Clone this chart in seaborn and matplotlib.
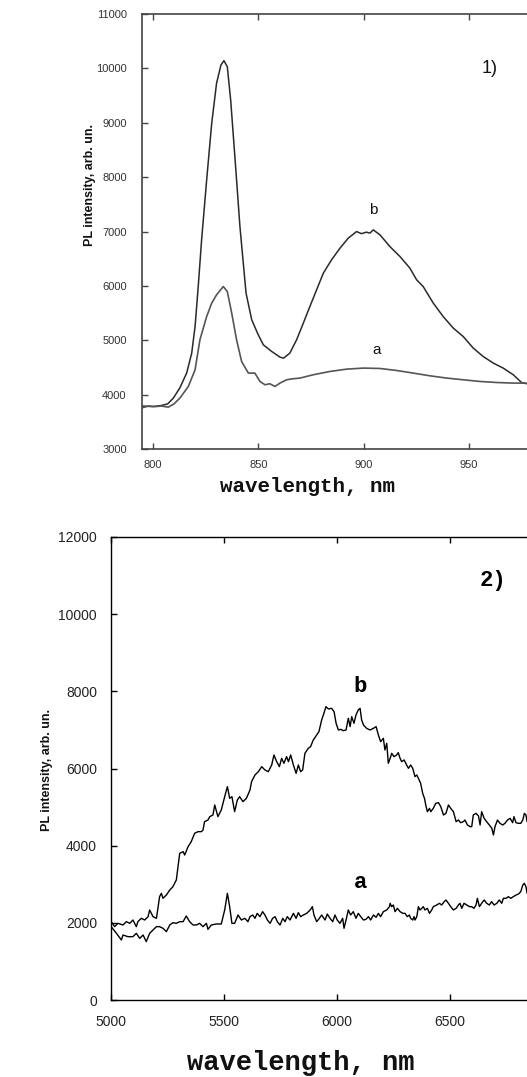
import matplotlib
matplotlib.use("Agg")
import matplotlib.pyplot as plt
import seaborn as sns
from matplotlib import font_manager

# === DATA: panel 1 (near IR) ===
wl1_b = [795, 800, 804, 807, 809.7, 812.8, 816, 818.4, 820, 821.5, 823.1, 825.5, 827.9, 830.2,
         832.3, 833.7, 835.3, 836.9, 838.9, 841.3, 844.2, 846.9, 850, 852.4, 856.4, 860.3, 862,
         865, 868.2, 871.4, 874.5, 877.7, 880.9, 884.8, 888.8, 892.7, 896.7, 899, 901.4, 903,
         904.6, 907.8, 912.5, 917.3, 922, 925.2, 928.3, 933.1, 937.8, 942.6, 947.3, 952.1,
         956.8, 961.6, 966.3, 971.1, 975, 977.5]
pl1_b = [3790, 3780, 3800, 3830, 3937, 4126, 4396, 4763, 5253, 5988, 6846, 7949, 8990, 9726,
         10063, 10142, 10031, 9419, 8377, 7091, 5866, 5376, 5100, 4916, 4793, 4690, 4670,
         4763, 5008, 5315, 5620, 5927, 6234, 6479, 6693, 6877, 6999, 6960, 6988, 6970,
         7030, 6938, 6723, 6539, 6326, 6111, 5988, 5683, 5436, 5223, 5069, 4855,
         4701, 4580, 4488, 4365, 4223, 4200]

wl1_a = [795, 798, 801, 804, 807.3, 810, 812.8, 816.8, 820, 822.3, 825.5, 827.9, 830.2, 833.4,
         835.3, 837.4, 839.7, 842.1, 845.3, 848.4, 850.8, 853.2, 855.5, 857.9, 860.3, 863.5,
         866, 869.8, 876.1, 884, 892, 899.9, 907.8, 915.7, 923.6, 931.5, 939.5, 947.3, 955.3,
         963.2, 971.1, 977.5]
pl1_a = [3760, 3790, 3780, 3790, 3770, 3830, 3937, 4150, 4457, 5008, 5436, 5683, 5835, 5988,
         5896, 5499, 5008, 4609, 4396, 4396, 4242, 4181, 4200, 4150, 4212, 4273,
         4290, 4304, 4365, 4426, 4469, 4488, 4481, 4444, 4396, 4346, 4304, 4273, 4242,
         4223, 4212, 4212]

# === DATA: panel 2 (mid IR) ===
wl2_b = [5001, 5016, 5031, 5053, 5068, 5083, 5097, 5112, 5119, 5134, 5149, 5164, 5171, 5186,
         5201, 5215, 5223, 5230, 5245, 5260, 5274, 5289, 5304, 5319, 5326, 5341, 5355, 5370,
         5385, 5400, 5407, 5414, 5429, 5437, 5451, 5459, 5473, 5488, 5503, 5515, 5525, 5535,
         5547, 5559, 5569, 5584, 5599,
         5615, 5622, 5637, 5652, 5667, 5681, 5696, 5711, 5721, 5733, 5745, 5755, 5765, 5777,
         5785, 5795, 5807, 5819, 5829, 5839, 5848, 5858, 5873, 5883, 5895, 5910, 5920, 5932,
         5942, 5951, 5962, 5976, 5987, 5996, 6006, 6016, 6028, 6040, 6050, 6058, 6065, 6075,
         6084, 6094, 6102, 6109, 6117, 6131, 6146, 6161, 6173, 6183, 6193, 6205, 6212, 6220,
         6227,
         6235, 6242, 6252, 6264, 6271, 6279, 6286, 6297, 6308, 6316, 6326, 6335, 6345, 6353,
         6360, 6370, 6379, 6387, 6394, 6400, 6409, 6415, 6426, 6437, 6449, 6459, 6471, 6482,
         6493, 6503, 6515, 6527, 6537, 6547, 6559, 6566, 6577, 6589, 6596, 6603, 6615, 6626,
         6633, 6640, 6651, 6662, 6674, 6685, 6692, 6699, 6710, 6721, 6733, 6743, 6754, 6766,
         6777, 6783, 6792, 6802, 6813, 6822, 6829, 6836, 6841]
pl2_b = [2030, 1901, 1987, 1944, 2030, 1987, 2073, 1901, 2030, 2117, 2073, 2160, 2333, 2160,
         2117, 2678, 2765, 2635, 2721, 2851, 2937, 3110, 3801, 3845, 3758, 3974, 4104, 4320,
         4363, 4363, 4406, 4622, 4665, 4752, 4795, 5054, 4752, 4925, 5270, 5530, 5227, 5270,
         4882, 5184, 5270, 5141, 5227,
         5443, 5659, 5832, 5918, 6048, 5962, 5918, 6091, 6350, 6177, 6048, 6264, 6134, 6307,
         6177, 6350, 6091, 5875, 6091, 5918, 5962, 6393, 6523, 6566, 6739, 6869, 6955, 7257,
         7430, 7603, 7543, 7560, 7473, 7171, 6998, 7015, 6981, 6998, 7301, 7085, 7344, 7171,
         7387, 7517, 7560, 7257, 7128, 7041, 6998, 7041, 7085, 6869, 6696, 6782, 6480, 6653,
         6134,
         6264, 6394, 6307, 6350, 6411, 6264, 6177, 6221, 6091, 6005, 6091, 6005, 5789, 5832,
         5746, 5616, 5357, 5227, 5011, 4881, 4968, 4881, 4968, 5098, 5115, 5011, 4795, 4838,
         5054, 4968, 4881, 4622, 4665, 4596, 4622, 4665, 4536, 4493, 4493, 4795, 4838, 4769,
         4536, 4881, 4709, 4622, 4536, 4450, 4277, 4493, 4665, 4579, 4536, 4579, 4665, 4709,
         4596, 4752, 4596, 4579, 4579, 4665, 4838, 4795, 4622]

wl2_a = [5001, 5024, 5046, 5053, 5075, 5097, 5112, 5127, 5142, 5156, 5171, 5186, 5201, 5215,
         5230, 5245, 5260, 5274, 5289, 5304, 5319, 5333, 5348, 5363, 5378, 5392, 5407, 5422,
         5429, 5444, 5466, 5488, 5503, 5515, 5525, 5535, 5547, 5562, 5577, 5592, 5606,
         5615, 5627, 5637, 5647, 5659, 5671, 5681, 5692, 5704, 5715, 5726, 5736, 5748, 5760,
         5770, 5780, 5792, 5807, 5819, 5829, 5839, 5851, 5866, 5881, 5891, 5898, 5910, 5922,
         5932, 5947, 5957, 5969, 5981, 5991, 6001, 6013, 6025, 6031, 6040, 6050, 6060, 6072,
         6084, 6094, 6105, 6117, 6128, 6139, 6149, 6161, 6173, 6183, 6193, 6205, 6220, 6232,
         6235, 6242, 6249, 6257, 6267, 6279, 6291, 6301, 6311, 6320, 6326, 6335, 6341, 6345,
         6353, 6360, 6367, 6375, 6382, 6389, 6400, 6409, 6419, 6426, 6441, 6453, 6463, 6474,
         6482, 6493, 6503, 6515, 6527, 6537, 6544, 6552, 6562, 6574, 6586, 6596, 6606, 6615,
         6621, 6630, 6640, 6651, 6662, 6674, 6684, 6695, 6707, 6718, 6729, 6736, 6748, 6758,
         6769, 6780, 6792, 6803, 6813, 6822, 6829, 6836, 6841]
pl2_a = [1901, 1728, 1555, 1685, 1641, 1641, 1728, 1598, 1685, 1512, 1728, 1814, 1901, 1901,
         1858, 1771, 1944, 2004, 1987, 2030, 2030, 2177, 2030, 1944, 1944, 1987, 1901, 1987,
         1832, 1944, 1970, 1970, 2333, 2765, 2419, 1987, 1987, 2203, 2073, 2117, 2030,
         2160, 2203, 2117, 2246, 2160, 2290, 2203, 2073, 1987, 2117, 2160, 2030, 1944, 2117,
         2030, 2160, 2073, 2246, 2117, 2264, 2160, 2203, 2246, 2333, 2419, 2203, 2030, 2117,
         2203, 2073, 2229, 2117, 2030, 2203, 2073, 1987, 2117, 1858, 2073, 2333, 2203, 2290,
         2117, 2246, 2160, 2073, 2091, 2160, 2073, 2203, 2143, 2246, 2160, 2290, 2333, 2419,
         2506, 2419, 2462, 2290, 2376, 2290, 2246, 2246, 2160, 2203, 2117, 2073, 2160, 2073,
         2160, 2419, 2333, 2376, 2419, 2333, 2376, 2246, 2333, 2419, 2462, 2506, 2462, 2549,
         2592, 2506, 2419, 2333, 2376, 2462, 2506, 2376, 2506, 2462, 2419, 2419, 2376, 2462,
         2635, 2419, 2506, 2592, 2506, 2462, 2549, 2462, 2506, 2592, 2506, 2635, 2635, 2678,
         2635, 2678, 2721, 2747, 2808, 2981, 3024, 2937, 2765]

ticks1_x = [800, 850, 900, 950]
ticks1_y = [3000, 4000, 5000, 6000, 7000, 8000, 9000, 10000, 11000]
ticks2_x = [5000, 5500, 6000, 6500]
ticks2_y = [0, 2000, 4000, 6000, 8000, 10000, 12000]

# === STYLE ===
sns.set_theme(style="ticks")
names = {f.name for f in font_manager.fontManager.ttflist}
SANS = "Liberation Sans" if "Liberation Sans" in names else "DejaVu Sans"
NARROW = "Liberation Sans Narrow" if "Liberation Sans Narrow" in names else SANS
MONO = "Liberation Mono" if "Liberation Mono" in names else "DejaVu Sans Mono"
plt.rcParams["font.family"] = [SANS, "DejaVu Sans"]

W, H = 527, 1077
fig = plt.figure(figsize=(W / 100, H / 100), dpi=100)
fig.patch.set_facecolor("white")


def px_axes(left, top, right, bottom):
    return fig.add_axes([left / W, 1 - bottom / H, (right - left) / W, (bottom - top) / H])


# === PANEL 1 ===
ax1 = px_axes(142, 14, 535, 449)
sns.lineplot(x=wl1_b, y=pl1_b, ax=ax1, color="#2a2a2a", lw=1.1, estimator=None, sort=False)
sns.lineplot(x=wl1_a, y=pl1_a, ax=ax1, color="#555555", lw=1.2, estimator=None, sort=False)
ax1.set_xlim(794.8, 981.4)
ax1.set_ylim(3000, 11000)
ax1.set_xticks(ticks1_x)
ax1.set_yticks(ticks1_y)
ax1.set_xlabel("")
ax1.set_ylabel("")
for s in ["left", "bottom", "top", "right"]:
    ax1.spines[s].set_color("#444444")
    ax1.spines[s].set_linewidth(1.2)
ax1.tick_params(direction="in", length=4, width=1, color="#444444", top=True, right=False,
                labelsize=8, labelcolor="#333333")
ax1.tick_params(axis="y", pad=11)
ax1.tick_params(axis="x", pad=8)
ax1.text(904.6, 7400, "b", fontsize=11, ha="center", va="center", color="#111111")
ax1.text(906.4, 4825, "a", fontsize=11, ha="center", va="center", color="#111111")
ax1.text(960, 10000, "1)", fontsize=13, ha="center", va="center", color="#111111")

fig.text(90 / W, 1 - 185 / H, "PL intensity, arb. un.", rotation=90, ha="center", va="center",
         fontsize=9, fontweight="bold", family=[NARROW, "DejaVu Sans"], color="#111111")
fig.text(307 / W, 1 - 487 / H, "wavelength, nm", ha="center", va="center",
         fontsize=15, fontweight="bold", family=[MONO, "DejaVu Sans Mono"], color="#111111")

# === PANEL 2 ===
ax2 = px_axes(111, 537, 535, 1000)
sns.lineplot(x=wl2_b, y=pl2_b, ax=ax2, color="black", lw=1.0, estimator=None, sort=False)
sns.lineplot(x=wl2_a, y=pl2_a, ax=ax2, color="black", lw=1.0, estimator=None, sort=False)
ax2.set_xlim(5000, 6876)
ax2.set_ylim(0, 12000)
ax2.set_xticks(ticks2_x)
ax2.set_yticks(ticks2_y)
ax2.set_xlabel("")
ax2.set_ylabel("")
for s in ["left", "bottom", "top", "right"]:
    ax2.spines[s].set_color("black")
    ax2.spines[s].set_linewidth(1.0)
ax2.tick_params(direction="in", length=4, width=1, color="black", top=True, right=False,
                labelsize=10, labelcolor="#222222")
ax2.tick_params(axis="y", pad=10)
ax2.tick_params(axis="x", pad=11)
ax2.text(6102, 8113, "b", fontsize=16, fontweight="bold", family=[MONO, "DejaVu Sans Mono"],
         ha="center", va="center", color="black")
ax2.text(6102, 3033, "a", fontsize=16, fontweight="bold", family=[MONO, "DejaVu Sans Mono"],
         ha="center", va="center", color="black")
ax2.text(6690, 10860, "2)", fontsize=16, fontweight="bold", family=[MONO, "DejaVu Sans Mono"],
         ha="center", va="center", color="black")

fig.text(47 / W, 1 - 770 / H, "PL intensity, arb. un.", rotation=90, ha="center", va="center",
         fontsize=9, fontweight="bold", family=[NARROW, "DejaVu Sans"], color="#111111")
fig.text(301 / W, 1 - 1063 / H, "wavelength, nm", ha="center", va="center",
         fontsize=19.5, fontweight="bold", family=[MONO, "DejaVu Sans Mono"], color="#111111")

fig.savefig("out.png", dpi=100, facecolor="white")
plt.close(fig)
